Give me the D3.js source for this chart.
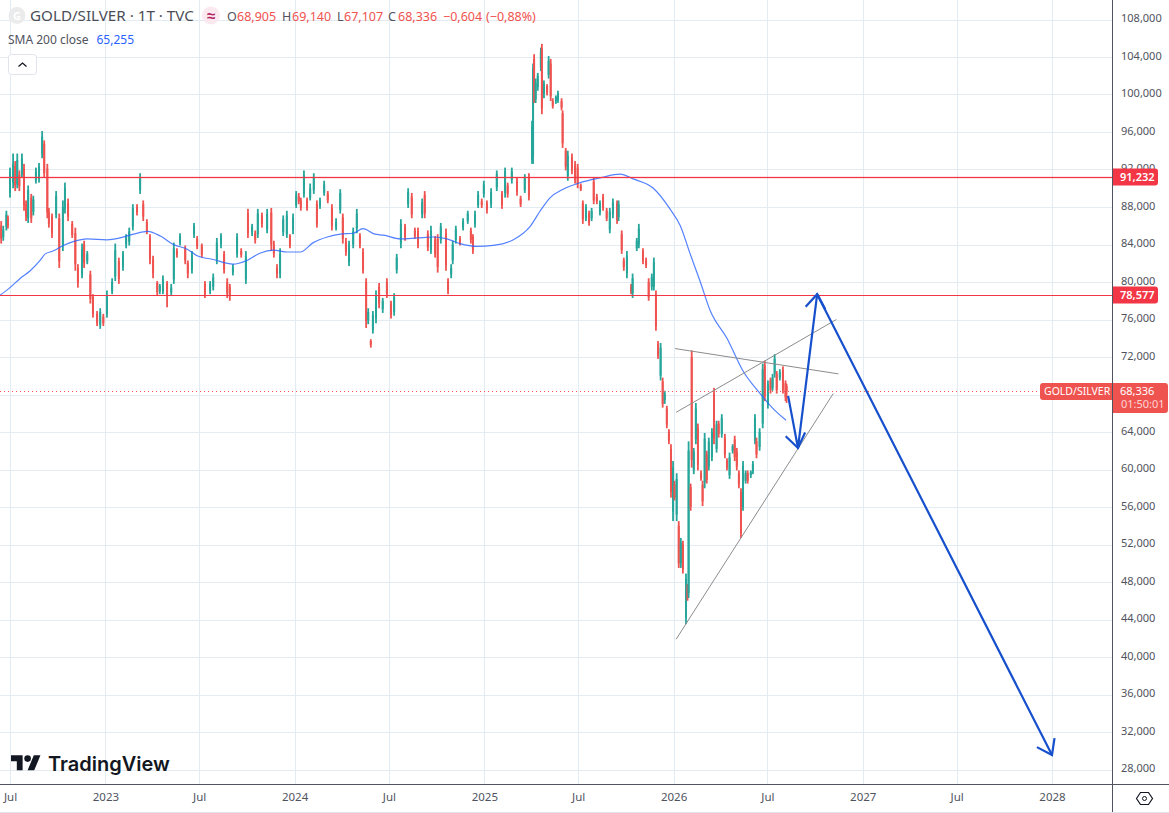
<!DOCTYPE html>
<html>
<head>
<meta charset="utf-8">
<script src="https://cdn.jsdelivr.net/npm/d3@7"></script>
<style>
  html, body { margin: 0; padding: 0; background: #fff; }
  svg { display: block; }
  text { font-family: "Noto Sans", sans-serif; }
</style>
</head>
<body>
<script>
// bars: day offset from the first date, prices in thousands
const startDate = Date.UTC(2022, 5, 12);

const barDays = [
2,6,12,15,19,25,29,33,37,42,46,50,54,60,64,69,75,81,85,91,
94,100,108,114,121,125,131,139,145,150,158,162,168,174,179,187,193,199,206,216,
222,229,237,243,249,256,264,270,276,283,289,295,303,308,314,322,330,335,341,347,
357,362,370,374,380,389,395,405,411,418,426,432,438,443,449,457,465,474,478,486,
492,497,505,515,523,528,534,540,546,553,559,565,571,576,580,586,592,598,605,611,
617,625,632,640,648,656,661,667,673,681,688,694,700,706,710,715,719,725,731,738,
746,754,760,765,773,781,787,794,800,806,814,819,825,831,839,844,850,860,864,870,
873,879,887,893,902,908,912,916,922,929,933,939,947,958,968,974,979,987,997,1004,
1012,1020,1026,1028,1030,1033,1037,1043,1045,1049,1055,1058,1062,1066,1072,1076,1083,1085,1091,1095,
1103,1109,1114,1120,1124,1130,1136,1141,1145,1151,1157,1163,1170,1176,1182,1190,1193,1199,1203,1209,
1217,1220,1228,1232,1240,1246,1251,1257,1261,1265,1269,1274,1278,1282,1286,1290,1294,1298,1301,1305,
1309,1313,1317,1323,1326,1328,1332,1334,1338,1342,1346,1352,1355,1359,1363,1367,1373,1377,1382,1386,
1392,1398,1402,1407,1413,1417,1421,1425,1429,1433,1438,1442,1448,1452,1456,1459,1465,1471,1475,1481,
1486,1490,1494,1498,1504,1510,1515,1517];

const highs = [
86.5,86,87.6,87.1,92.2,93.7,92.9,93.7,91.9,93.7,92.6,88.7,90.3,89.4,89.2,92.2,92.7,96.1,95.1,92.6,
87.9,87.3,89.7,87.3,88.7,90.6,88.9,86.5,85.8,81.9,84.1,84.4,83.3,81.2,78.7,76.9,77.2,76.6,79.1,80.4,
84.1,82.6,83.3,85.1,85.8,88.3,88.3,91.6,88.7,86.7,85.1,82.8,80.1,79.8,80.7,80.1,79.8,84.2,83.6,85.2,
83.9,82.3,83.3,86.3,84.9,84.1,80.1,80.1,80.9,84.7,85.2,83.3,80.4,79.8,81.9,85.2,83.6,83.3,87.8,86.2,
85.5,87.8,87.4,87.8,87.9,84.4,81.9,83.6,87.1,87.6,85.1,87.3,89.7,89.5,89,91.9,89,90.5,91.6,88.7,
89,90.8,89.7,88.3,86.8,89.9,87.3,84.7,84.4,85.8,87.8,85.2,83.6,80.4,77.2,73.9,76.9,79.1,79.9,78.3,
80.4,78,78.8,83,86.7,86.2,90,89.5,85.8,85.8,88.9,89.7,85.5,86,84.9,85.1,86.3,85.7,80.4,81.9,
84.4,86,84.9,86.8,87.6,85.8,85.1,87.6,89.7,88.9,90.8,88.7,90,91.9,89.7,92.2,90.6,92.2,91.1,89.2,
91.5,91.6,97.2,103.3,104.3,101.7,102.3,105,105.4,101.5,101.1,104.1,103.8,99.6,99.9,100.4,99.6,98.3,94.3,94,
93.7,92.9,92.6,90.5,88.7,88.3,87.6,87.9,91.1,89.4,88.7,89.4,87.9,87.9,88.9,88.7,88.7,85.5,82.6,83.3,
79.8,80.9,84.7,86.2,83.6,82.6,80.4,80.9,82.6,79.1,73.7,73.5,69.8,68.4,66.8,64.3,62.7,60.9,58.8,59.6,
54.5,52.7,52.4,48.9,47.8,63,58.5,72.7,62.3,67.1,64.9,59.9,58.8,63.9,62,63.4,64.4,68.7,65.2,65.2,
65.9,63.8,61.2,61.8,62.7,63.6,62.3,59.9,58,60.9,59.9,59.9,59.9,60.9,65.9,63.4,64.4,71.3,71.6,69.5,
69.8,70.2,72.3,70.5,70.7,71,69.5,69.14];

const lows = [
84.1,84.4,85.5,85.7,89,90,89.7,90,89.7,91.1,87.6,86.5,86.3,86.3,87.1,90.5,90.6,93.2,91.1,86.8,
85.8,84.7,86.8,81.5,83.3,87.3,86.5,84.7,81.2,79.4,80.4,81.5,81.9,77.7,76.2,75.3,75,75.3,76.2,78.7,
80.1,79.8,81.2,83.6,83.9,85.5,87.1,89.4,86.5,85.1,81.9,80.4,78.5,78.7,78.7,77.3,78.5,79.8,82.6,83.9,
81.9,80.4,80.9,84.7,83.5,82.6,78.3,78.7,79.1,81.9,83.6,80.9,78.3,78,80.7,82.6,82.6,79.8,84.7,84.9,
84.1,84.7,85.8,85.2,83.3,82.6,80.4,80.4,84.9,84.7,83.6,85.1,87.9,88.3,87.6,89,87.6,88.7,89.4,85.8,
87.8,89.2,88.4,85.5,85.5,87.3,84.1,82.8,81.7,83.6,85.2,83.6,80.9,75.1,75.5,73,74.5,75.6,77.2,76.7,
78.3,76.1,76.4,80.9,83.6,84.4,87.9,86.8,84.6,83.6,86.8,86.8,83.3,83,82.6,81,84.1,81.2,78.7,80.4,
81.9,84.1,83.9,85.5,86.2,84.1,83,85.8,87.9,87.9,89,87.3,87.9,89.7,87.8,89,89,90.5,89.2,88,
89.5,88.7,92.6,92.6,99.1,99.1,100.4,102.5,97.9,99.6,99.9,101.7,99.3,98.5,99,99.1,98.3,94.3,91.9,90.8,
91.5,90.5,90,89.7,86.2,86.5,86,86.5,88.3,88.3,87.1,87.6,86.5,85.2,86.8,86.2,86.5,83,81.2,80.4,
78.7,78.3,83.3,83.6,81.9,81.5,78,79.1,79.1,74.8,71.8,69.5,66.6,67,64.4,62.7,57,54.5,56.7,54.5,
49.5,49.5,48.9,43.5,46,46.3,55.6,60.2,59.5,62.7,59.9,58.8,56.1,58,58.5,59.9,60.9,62.7,61.8,63.4,
63.4,61.2,59.9,59,61.7,60.9,59.9,58,52.7,55.6,58.5,58.5,59.1,59.5,62.7,61.2,62,64.4,67.3,66.5,
68.1,68.4,69.8,68.1,69.5,68.1,67.3,67.107];

const opens = [
86,84.8,85.9,86.9,89.5,90.6,92.4,90.4,91.5,91.5,92.1,88.3,86.8,89,87.5,90.8,91,93.6,94.7,92.1,
87.5,87,87.2,86.8,83.9,87.8,88.4,86.2,85.2,81.5,80.8,84,82.2,80.8,78.4,76.6,75.4,76.3,76.6,79,
80.6,82.2,81.6,84,84.3,85.9,88,89.8,88.3,86.4,84.7,82.4,79.9,79,79,79.8,78.9,80.3,83.3,84.2,
83.5,82,81.3,85.1,84.6,83.9,79.8,79,79.5,82.4,84,83,80,79.5,81,83,83.3,80.3,87.3,85.3,
85.2,85.1,87.1,85.6,87.4,84,81.5,80.9,85.3,85.1,84.9,85.5,88.2,89.1,88.7,89.4,88.7,89,89.8,88.3,
88.1,89.5,89.4,87.9,85.8,87.7,86.9,84.3,82.1,84,85.7,84.9,83.2,80,75.9,73.7,74.9,76.1,79.5,77.1,
80,77.7,76.8,81.3,84.1,85.9,88.3,89.1,85.5,85.4,87.2,89.3,85.1,83.4,84.5,84.6,84.5,85.2,80.1,80.8,
82.3,84.5,84.6,85.8,86.5,85.5,84.8,86.2,88.2,88.6,89.4,88.4,88.3,90.1,89.4,89.5,90.3,90.9,90.8,88.9,
89.8,91.2,93,93.5,103.8,99.5,100.8,102.9,104.9,100,100.9,102.1,103.3,99.3,99.3,99.4,99.3,98,94,91.3,
93.3,92.5,92.2,90.3,88.4,86.8,87.3,86.8,90.7,89.1,87.4,89.1,87.6,85.6,87.2,88.4,86.9,85.1,82.3,80.9,
79.5,78.8,83.6,84,83.3,82.3,80,79.5,79.5,78.7,73.4,70,69.4,67.4,66.5,64,62.2,55.5,58.4,55.2,
54,50,52,44.2,47.5,46.8,58.1,72,59.9,63.2,64.4,59.6,58.4,58.6,61.6,60.3,61.3,68.1,62.2,64.9,
63.8,63.4,61,59.4,62,63.2,61.9,59.6,57.6,56,58.8,59.6,59.4,59.8,63.1,63,62.4,64.9,71.1,66.9,
69.5,68.7,70.2,70.2,69.8,70.6,69.2,68.905];

const closes = [
84.6,85.6,87.2,86,91.8,92.6,90.3,93,90.2,93.2,88.2,87,89.8,86.8,88.8,91.8,92.3,95.5,91.6,87.4,
86.2,85.2,89.2,82.2,88,90,87,85,81.9,79.9,83.5,82,83,78.2,76.6,75.6,76.8,75.6,78.6,80,
83.4,80.3,83,84.8,85.4,87.9,87.4,91.2,87,85.4,82.4,80.9,78.9,79.6,80.3,78.6,79.4,83.6,82.9,84.9,
82.3,80.9,82.9,86,83.8,82.9,78.7,79.8,80.5,84.2,84.9,81.3,78.8,78.5,81.6,84.8,82.9,82.8,85.2,85.9,
84.5,87.3,86.2,87.3,84,83,80.9,83,86.7,87.1,83.9,86.9,89.3,88.6,87.9,91.4,87.9,90,91.2,86.2,
88.7,90.4,88.7,86,86.4,89.5,84.6,83.2,84,85.4,87.3,84,81.3,75.8,76.8,73.3,76.5,78.6,77.7,78,
78.7,76.5,78.4,82.6,86.2,84.8,89.6,87.2,84.9,84,88.5,87.3,83.7,85.5,83,81.6,85.9,81.8,79.1,81.5,
84,85.6,84.2,86.5,87.3,84.5,83.4,87.2,89.3,88.2,90.4,87.7,89.6,91.5,88.2,91.8,89.4,91.8,89.6,88.3,
91.1,89.1,96.6,102.8,99.6,101.2,102,104.5,98.5,101.1,100.2,103.6,99.8,98.8,99.7,100.1,98.6,94.8,92.3,93.5,
91.9,90.9,90.4,89.9,86.7,88,86.3,87.6,88.7,88.6,88.4,87.9,86.8,87.5,88.5,86.6,88.3,83.4,81.6,82.8,
79,80.4,84.4,85.7,82.3,81.8,78.4,80.5,82.1,75.3,72.2,73,67,68.1,64.8,63.1,57.6,60.2,57,59,
50,52.2,49.4,48.3,46.3,62,56,61,61.9,66.5,60.5,59.1,56.6,63.3,58.9,63,64,63.3,64.8,63.8,
65.5,61.6,60.2,61.3,62.5,61.3,60.3,58.4,53.2,60.4,59.6,58.8,59.7,60.6,65.5,61.6,64,70.7,67.8,69.1,
68.5,69.8,71.8,68.5,70.4,68.5,67.7,68.336];

// SMA 200
const smaDays = [0,19,39,58,77,87,102,122,141,168,206,231,257,285,309,334,361,380,411,449,476,502,527,554,579,604,631,656,681,700,723,739,772,804,835,862,887,920,951,990,1022,1042,1061,1086,1119,1157,1196,1221,1260,1292,1312,1331,1350,1370,1402,1433,1466,1491,1516];
const smaValues = [78.6,79.4,80.4,81.2,82.3,83,83.3,83.9,84.3,84.6,84.5,84.7,85.1,85.4,84.9,84,83.5,82.8,82.4,81.9,82.3,83.1,83.4,83.2,83.2,84.2,84.8,85.1,85.2,85.7,85.1,85,84.6,84.7,84.8,84.6,84.1,83.8,83.9,84.5,85.9,87.6,89,89.9,90.6,91.1,91.5,91,90,87.8,86,83,80.1,76.9,74,70.5,68.1,66.5,65.255];

// axes
const gridPrices = [108,104,100,96,92,88,84,80,76,72,68,64,60,56,52,48,44,40,36,32,28];
const priceTicks = [108,104,100,96,92,88,84,80,76,72,64,60,56,52,48,44,40,36,32,28]; // 68 sits under the price tag
const timeTicks = [[2022,6],[2023,0],[2023,6],[2024,0],[2024,6],[2025,0],[2025,6],[2026,0],[2026,6],[2027,0],[2027,6],[2028,0]];
const timeLabels = ["Jul","2023","Jul","2024","Jul","2025","Jul","2026","Jul","2027","Jul","2028"];

// horizontal levels and drawn lines
const levels = [91.232, 78.577];
const greyLineDays = [[1302,1617],[1304,1613],[1304,1607]];
const greyLinePrices = [[72.9,70.2],[66.1,76],[41.9,68.1]];
const arrowDays = [1520,1539,1576,2029];
const arrowPrices = [67.85,62.3,78.7,29.55];
const lastPrice = 68.336;

const W = 1169, H = 813, paneW = 1112, paneH = 784;
const up = "#26a69a", down = "#ef5350", levelCol = "#f23645", axisCol = "#50535e", gridCol = "#e3ecf3", textCol = "#50535e";

const dayDate = d => new Date(startDate + d * 864e5);
const x = d3.scaleUtc()
  .domain([new Date(Date.UTC(2022,6,1)), new Date(Date.UTC(2028,0,1))])
  .range([10, 1052]);
const y = d3.scaleLinear().domain([108, 28]).range([19.5, 769.5]);

const svg = d3.select("body").append("svg").attr("width", W).attr("height", H);

// grid
svg.append("g").selectAll("line").data(gridPrices).enter().append("line")
  .attr("x1", 0).attr("x2", paneW)
  .attr("y1", d => Math.round(y(d)) + 0.5).attr("y2", d => Math.round(y(d)) + 0.5)
  .attr("stroke", gridCol);
svg.append("g").selectAll("line").data(timeTicks).enter().append("line")
  .attr("y1", 0).attr("y2", paneH)
  .attr("x1", d => Math.round(x(new Date(Date.UTC(d[0], d[1], 1)))) + 0.5)
  .attr("x2", d => Math.round(x(new Date(Date.UTC(d[0], d[1], 1)))) + 0.5)
  .attr("stroke", gridCol);

// candles, thin enough that wick and body read as one stroke
const bars = barDays.map((d, i) => ({ d: d, o: opens[i], h: highs[i], l: lows[i], c: closes[i] }));
const candles = svg.append("g").selectAll("g").data(bars).enter().append("g")
  .attr("fill", d => d.c >= d.o ? up : down);
candles.append("rect")
  .attr("x", d => x(dayDate(d.d)) - 0.9)
  .attr("width", 1.8)
  .attr("y", d => y(d.h))
  .attr("height", d => y(d.l) - y(d.h));
candles.append("rect")
  .attr("x", d => x(dayDate(d.d)) - 1)
  .attr("width", 2)
  .attr("y", d => y(Math.max(d.o, d.c)))
  .attr("height", d => Math.abs(y(d.o) - y(d.c)));

// sma
const smaLine = d3.line()
  .x((d, i) => x(dayDate(smaDays[i])))
  .y(d => y(d))
  .curve(d3.curveMonotoneX);
svg.append("path").attr("d", smaLine(smaValues))
  .attr("fill", "none").attr("stroke", "#2962ff").attr("stroke-width", 1.2).attr("stroke-opacity", 0.8);

// price levels, the upper one reads a little heavier in the picture
svg.append("g").selectAll("rect").data(levels).enter().append("rect")
  .attr("x", 0).attr("width", paneW)
  .attr("y", (d, i) => Math.round(y(d)) - (i ? 0 : 0.15)).attr("height", (d, i) => i ? 1 : 1.3)
  .attr("fill", levelCol);
svg.append("line").attr("x1", 0).attr("x2", 1040)
  .attr("y1", Math.round(y(lastPrice)) + 0.5).attr("y2", Math.round(y(lastPrice)) + 0.5)
  .attr("stroke", down).attr("stroke-dasharray", "1 3");

// triangle lines
greyLineDays.forEach((ds, i) => {
  svg.append("line")
    .attr("x1", x(dayDate(ds[0]))).attr("x2", x(dayDate(ds[1])))
    .attr("y1", y(greyLinePrices[i][0])).attr("y2", y(greyLinePrices[i][1]))
    .attr("stroke", "#8c8c8c").attr("stroke-width", 1);
});

// forecast arrows
const arrowPts = arrowDays.map((d, i) => [x(dayDate(d)), y(arrowPrices[i])]);
const arrowCol = "#1650cc";
svg.append("path").attr("d", d3.line()(arrowPts))
  .attr("fill", "none").attr("stroke", arrowCol).attr("stroke-width", 2.2).attr("stroke-linejoin", "round");
function arrowHead(from, to) {
  const ang = Math.atan2(to[1] - from[1], to[0] - from[0]);
  const len = 17, spread = 0.62;
  const p1 = [to[0] - len * Math.cos(ang - spread), to[1] - len * Math.sin(ang - spread)];
  const p2 = [to[0] - len * Math.cos(ang + spread), to[1] - len * Math.sin(ang + spread)];
  svg.append("path").attr("d", d3.line()([p1, to, p2]))
    .attr("fill", "none").attr("stroke", arrowCol).attr("stroke-width", 2.2);
}
arrowHead(arrowPts[0], arrowPts[1]);
arrowHead(arrowPts[1], arrowPts[2]);
arrowHead(arrowPts[2], arrowPts[3]);

// white covers for the axis strips
svg.append("rect").attr("x", paneW).attr("y", 0).attr("width", W - paneW).attr("height", H).attr("fill", "#fff");
svg.append("rect").attr("x", 0).attr("y", paneH).attr("width", W).attr("height", H - paneH).attr("fill", "#fff");

// right axis
const fmtPrice = d => d.toFixed(3).replace(".", ",");
const yAxis = svg.append("g")
  .attr("transform", "translate(1121,-1.5)")
  .call(d3.axisRight(y).tickValues(priceTicks).tickSize(0).tickPadding(0).tickFormat(fmtPrice));
yAxis.select(".domain").remove();
yAxis.selectAll("text").attr("fill", textCol).attr("font-size", 11).style("font-family", '"Noto Sans", sans-serif');

// bottom axis
const xAxis = svg.append("g")
  .attr("transform", "translate(0,793)")
  .call(d3.axisBottom(x)
    .tickValues(timeTicks.map(d => new Date(Date.UTC(d[0], d[1], 1))))
    .tickSize(0).tickPadding(0)
    .tickFormat((d, i) => timeLabels[i]));
xAxis.select(".domain").remove();
xAxis.selectAll("text").attr("fill", textCol).attr("font-size", 11.5).style("font-family", '"Noto Sans", sans-serif');

svg.append("line").attr("x1", 0).attr("x2", W).attr("y1", paneH + 0.5).attr("y2", paneH + 0.5).attr("stroke", axisCol);
svg.append("line").attr("x1", paneW + 0.5).attr("x2", paneW + 0.5).attr("y1", 0).attr("y2", 812).attr("stroke", axisCol);
svg.append("line").attr("x1", 0).attr("x2", W).attr("y1", 812.5).attr("y2", 812.5).attr("stroke", "#e0e3eb");

// price labels
function levelLabel(v, col) {
  const yy = Math.round(y(v));
  svg.append("path").attr("fill", col)
    .attr("d", `M1113 ${yy-8.5}H1155a3 3 0 0 1 3 3V${yy+5.5}a3 3 0 0 1 -3 3H1113Z`);
  svg.append("text").attr("x", 1120).attr("y", yy + 4).attr("fill", "#fff")
    .attr("font-size", 11).attr("font-weight", 600).text(fmtPrice(v));
}
levels.forEach(v => levelLabel(v, levelCol));
const ly = Math.round(y(lastPrice));
svg.append("path").attr("fill", down)
  .attr("d", `M1113 ${ly-8}H1165a3 3 0 0 1 3 3V${ly+19}a3 3 0 0 1 -3 3H1113Z`);
svg.append("text").attr("x", 1120).attr("y", ly + 4).attr("fill", "#fff").attr("font-size", 11).text(fmtPrice(lastPrice));
svg.append("text").attr("x", 1121).attr("y", ly + 17).attr("fill", "#fbd5d4").attr("font-size", 11).text("01:50:01");
svg.append("path").attr("fill", down)
  .attr("d", `M1112 ${ly-8}V${ly+9}H1043a3 3 0 0 1 -3 -3V${ly-5}a3 3 0 0 1 3 -3Z`);
svg.append("text").attr("x", 1044).attr("y", ly + 4).attr("fill", "#fff").attr("font-size", 10.5).text("GOLD/SILVER");

// legend
svg.append("circle").attr("cx", 17).attr("cy", 15.5).attr("r", 8.5).attr("fill", "#ebebeb");
svg.append("text").attr("x", 17).attr("y", 19.5).attr("text-anchor", "middle").attr("fill", "#fff")
  .attr("font-size", 11).attr("font-weight", 700).text("G");
svg.append("text").attr("x", 30).attr("y", 21).attr("fill", "#4a4d57").attr("font-size", 15.2).text("GOLD/SILVER · 1T · TVC");
svg.append("circle").attr("cx", 211).attr("cy", 15.5).attr("r", 9).attr("fill", "#fce8ef");
svg.append("text").attr("x", 211).attr("y", 21).attr("text-anchor", "middle").attr("fill", "#b5235f")
  .attr("font-size", 15).attr("font-weight", 700).text("≈");

const legendLetters = ["O","H","L","C"];
const legendLetterX = [227,282,337,388];
const legendValues = ["68,905","69,140","67,107","68,336"];
const legendValueX = [237,292,344,398];
legendLetters.forEach((t, i) => {
  svg.append("text").attr("x", legendLetterX[i]).attr("y", 20.5).attr("fill", textCol).attr("font-size", 12.5).text(t);
  svg.append("text").attr("x", legendValueX[i]).attr("y", 20.5).attr("fill", down).attr("font-size", 12.5).text(legendValues[i]);
});
svg.append("text").attr("x", 443).attr("y", 20.5).attr("fill", down).attr("font-size", 12.5).text("−0,604");
svg.append("text").attr("x", 486).attr("y", 20.5).attr("fill", down).attr("font-size", 12.5).text("(−0,88%)");
svg.append("text").attr("x", 8).attr("y", 44).attr("fill", textCol).attr("font-size", 12).text("SMA 200 close");
svg.append("text").attr("x", 96.5).attr("y", 44).attr("fill", "#2962ff").attr("font-size", 12).text("65,255");

svg.append("rect").attr("x", 8.5).attr("y", 54.5).attr("width", 28).attr("height", 20).attr("rx", 3)
  .attr("fill", "#fff").attr("stroke", "#e0e3eb");
svg.append("path").attr("d", "M18.5 66.5L22.5 63L26.5 66.5").attr("fill", "none").attr("stroke", "#131722").attr("stroke-width", 1.3);

// logo
svg.append("path").attr("fill", "#131722").attr("transform", "translate(11,752) scale(0.83)")
  .attr("d", "M14 22H7V11H0V4h14v18zM28 22h-8l7.5-18h8L28 22z");
svg.append("circle").attr("cx", 27.6).attr("cy", 758.6).attr("r", 3.3).attr("fill", "#131722");
svg.append("text").attr("x", 48).attr("y", 771).attr("fill", "#131722")
  .attr("font-size", 20).attr("font-weight", 600).style("font-family", "Inter, sans-serif").text("TradingView");

// settings icon
svg.append("path").attr("fill", "none").attr("stroke", "#131722").attr("stroke-width", 1.2)
  .attr("d", "M1136.5 798.5L1140.5 792.5H1148.5L1152.5 798.5L1148.5 804.5H1140.5Z");
svg.append("circle").attr("cx", 1144.5).attr("cy", 798.5).attr("r", 2).attr("fill", "none").attr("stroke", "#131722");
</script>
</body>
</html>
